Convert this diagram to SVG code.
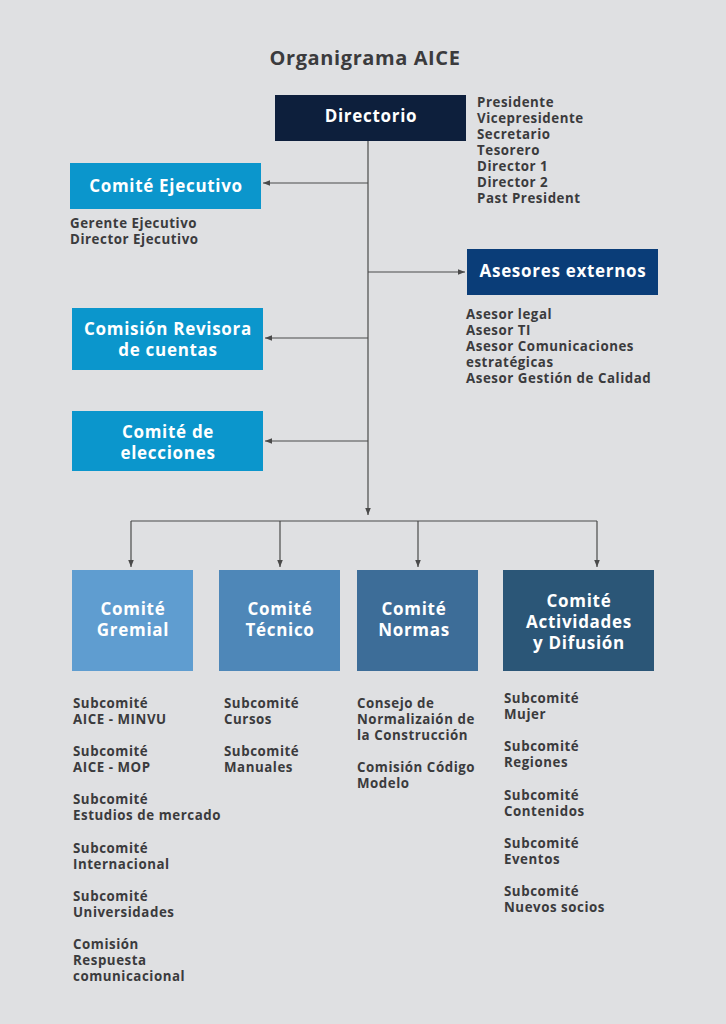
<svg xmlns="http://www.w3.org/2000/svg" width="726" height="1024" viewBox="0 0 726 1024">
<defs>
<style>
text{font-family:"Open Sans","Liberation Sans",sans-serif;font-weight:700}
.t{fill:#3b3b3d;font-size:20px;text-anchor:middle;letter-spacing:0.6px}
.b{fill:#ffffff;font-size:17px;text-anchor:middle;letter-spacing:0.7px}
.l{fill:#3b3b3d;font-size:13.3px;letter-spacing:0.55px}
.c{stroke:#4a4a4a;stroke-width:1.2;fill:none}
</style>
<marker id="ah" viewBox="0 0 10 10" refX="10" refY="5" markerWidth="7" markerHeight="7" markerUnits="userSpaceOnUse" orient="auto">
<path d="M0,1 L10,5 L0,9 Z" fill="#4a4a4a"/>
</marker>
</defs>
<rect width="726" height="1024" fill="#dfe0e2"/>
<text class="t" x="365" y="65">Organigrama AICE</text>

<g id="connectors">
<path class="c" d="M368,141 V515" marker-end="url(#ah)"/>
<path class="c" d="M368,183 H263" marker-end="url(#ah)"/>
<path class="c" d="M368,272 H465" marker-end="url(#ah)"/>
<path class="c" d="M368,338 H265" marker-end="url(#ah)"/>
<path class="c" d="M368,441 H265" marker-end="url(#ah)"/>
<path class="c" d="M131,521 H597"/>
<path class="c" d="M131,521 V567" marker-end="url(#ah)"/>
<path class="c" d="M280,521 V567" marker-end="url(#ah)"/>
<path class="c" d="M418,521 V567" marker-end="url(#ah)"/>
<path class="c" d="M597,521 V567" marker-end="url(#ah)"/>
</g>

<g id="directorio">
<rect x="275" y="95" width="191" height="46" fill="#0d1f3c"/>
<text class="b" x="371" y="122">Directorio</text>
<text class="l" x="477"><tspan x="477" y="107">Presidente</tspan><tspan x="477" y="123">Vicepresidente</tspan><tspan x="477" y="139">Secretario</tspan><tspan x="477" y="155">Tesorero</tspan><tspan x="477" y="171">Director 1</tspan><tspan x="477" y="187">Director 2</tspan><tspan x="477" y="203">Past President</tspan></text>
</g>

<g id="comite-ejecutivo">
<rect x="70" y="163" width="191" height="46" fill="#0b96cc"/>
<text class="b" x="166" y="192">Comité Ejecutivo</text>
<text class="l"><tspan x="70" y="228">Gerente Ejecutivo</tspan><tspan x="70" y="244">Director Ejecutivo</tspan></text>
</g>

<g id="asesores-externos">
<rect x="467" y="249" width="191" height="46" fill="#0a3d78"/>
<text class="b" x="563" y="277">Asesores externos</text>
<text class="l"><tspan x="466" y="319">Asesor legal</tspan><tspan x="466" y="335">Asesor TI</tspan><tspan x="466" y="351">Asesor Comunicaciones</tspan><tspan x="466" y="367">estratégicas</tspan><tspan x="466" y="383">Asesor Gestión de Calidad</tspan></text>
</g>

<g id="comision-revisora">
<rect x="72" y="308" width="191" height="62" fill="#0b96cc"/>
<text class="b"><tspan x="168" y="335">Comisión Revisora</tspan><tspan x="168" y="356">de cuentas</tspan></text>
</g>

<g id="comite-elecciones">
<rect x="72" y="411" width="191" height="60" fill="#0b96cc"/>
<text class="b"><tspan x="168" y="438">Comité de</tspan><tspan x="168" y="459">elecciones</tspan></text>
</g>

<g id="comite-gremial">
<rect x="72" y="570" width="121" height="101" fill="#5f9dd0"/>
<text class="b"><tspan x="133" y="615">Comité</tspan><tspan x="133" y="636">Gremial</tspan></text>
<text class="l"><tspan x="73" y="708">Subcomité</tspan><tspan x="73" y="724">AICE - MINVU</tspan><tspan x="73" y="756">Subcomité</tspan><tspan x="73" y="772">AICE - MOP</tspan><tspan x="73" y="804">Subcomité</tspan><tspan x="73" y="820">Estudios de mercado</tspan><tspan x="73" y="853">Subcomité</tspan><tspan x="73" y="869">Internacional</tspan><tspan x="73" y="901">Subcomité</tspan><tspan x="73" y="917">Universidades</tspan><tspan x="73" y="949">Comisión</tspan><tspan x="73" y="965">Respuesta</tspan><tspan x="73" y="981">comunicacional</tspan></text>
</g>

<g id="comite-tecnico">
<rect x="219" y="570" width="121" height="101" fill="#4e87b8"/>
<text class="b"><tspan x="280" y="615">Comité</tspan><tspan x="280" y="636">Técnico</tspan></text>
<text class="l"><tspan x="224" y="708">Subcomité</tspan><tspan x="224" y="724">Cursos</tspan><tspan x="224" y="756">Subcomité</tspan><tspan x="224" y="772">Manuales</tspan></text>
</g>

<g id="comite-normas">
<rect x="357" y="570" width="121" height="101" fill="#3d6d98"/>
<text class="b"><tspan x="414" y="615">Comité</tspan><tspan x="414" y="636">Normas</tspan></text>
<text class="l"><tspan x="357" y="708">Consejo de</tspan><tspan x="357" y="724">Normalizaión de</tspan><tspan x="357" y="740">la Construcción</tspan><tspan x="357" y="772">Comisión Código</tspan><tspan x="357" y="788">Modelo</tspan></text>
</g>

<g id="comite-actividades">
<rect x="503" y="570" width="151" height="101" fill="#2b5677"/>
<text class="b"><tspan x="579" y="607">Comité</tspan><tspan x="579" y="628">Actividades</tspan><tspan x="579" y="649">y Difusión</tspan></text>
<text class="l"><tspan x="504" y="703">Subcomité</tspan><tspan x="504" y="719">Mujer</tspan><tspan x="504" y="751">Subcomité</tspan><tspan x="504" y="767">Regiones</tspan><tspan x="504" y="800">Subcomité</tspan><tspan x="504" y="816">Contenidos</tspan><tspan x="504" y="848">Subcomité</tspan><tspan x="504" y="864">Eventos</tspan><tspan x="504" y="896">Subcomité</tspan><tspan x="504" y="912">Nuevos socios</tspan></text>
</g>
</svg>
